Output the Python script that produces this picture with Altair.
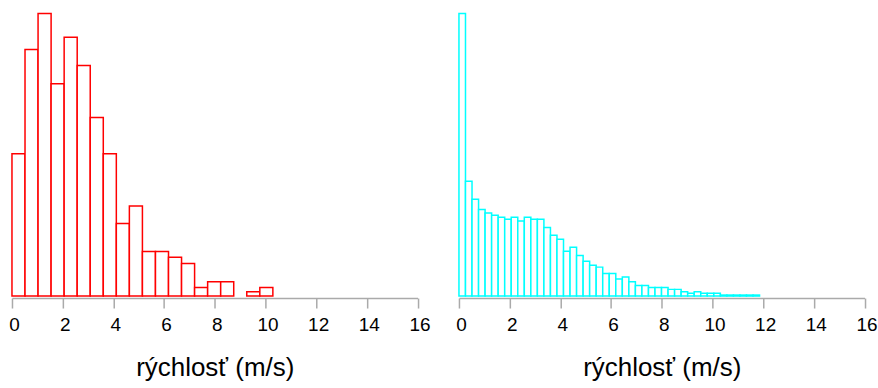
import altair as alt
import pandas as pd

# Left histogram (red): 20 equal bins starting at 0
left_bin_width = 0.5146
left_heights = [142.7, 247.0, 283.3, 212.7, 259.3, 231.0, 179.0, 142.7, 72.7, 90.3,
                44.7, 44.7, 39.0, 32.7, 8.7, 14.3, 14.3, 0.0, 4.3, 8.7]

# Right histogram (cyan): 46 equal bins starting at 0
right_bin_width = 0.2578
right_heights = [283.3, 115.0, 97.0, 86.7, 83.3, 81.0, 79.0, 77.0, 79.0, 75.3,
                 79.0, 77.0, 77.0, 68.7, 61.0, 57.0, 45.0, 49.0, 40.7, 35.0,
                 31.0, 29.0, 22.7, 22.7, 17.0, 19.0, 14.3, 10.7, 10.7, 8.7,
                 8.7, 8.7, 6.7, 6.7, 4.3, 2.7, 4.3, 2.7, 2.7, 2.7,
                 1.0, 1.0, 1.0, 1.0, 1.0, 1.0]

x_ticks = [0, 2, 4, 6, 8, 10, 12, 14, 16]
x_title = "rýchlosť (m/s)"
y_max = 283.3


def panel(heights, bw, color):
    df = pd.DataFrame({
        "start": [i * bw for i in range(len(heights))],
        "end": [(i + 1) * bw for i in range(len(heights))],
        "h": heights,
    })
    return (
        alt.Chart(df)
        .transform_filter("datum.h > 0")
        .mark_bar(fill="white", stroke=color, strokeWidth=1.5)
        .encode(
            x=alt.X("start:Q",
                    scale=alt.Scale(domain=[0, 16], nice=False, zero=False),
                    axis=alt.Axis(values=x_ticks, title=x_title, grid=False,
                                  labelFlush=False, labelOverlap=False)),
            x2="end:Q",
            y=alt.Y("h:Q", scale=alt.Scale(domain=[0, y_max], nice=False), axis=None),
            y2=alt.datum(0),
        )
        .properties(width=406.5, height=283.3)
    )


left = panel(left_heights, left_bin_width, "#ff0000")
right = panel(right_heights, right_bin_width, "#00ffff")

chart = (
    alt.hconcat(left, right, spacing=41, bounds="flush")
    .properties(padding={"left": 8, "top": 12, "right": 0, "bottom": 0},
                background="white")
    .configure_view(stroke=None)
    .configure_axis(
        domainColor="#aaaaaa", domainWidth=1.5,
        tickColor="#aaaaaa", tickWidth=1.5, tickSize=10,
        offset=2,
        labelFont="Liberation Sans", labelFontSize=19, labelColor="#000000",
        labelPadding=8, labelOffset=2,
        titleFont="Liberation Sans", titleFontSize=26, titleFontWeight="normal",
        titleColor="#000000", titlePadding=20,
    )
)

chart.save("out.html", embed_options={"renderer": "svg", "actions": False})
